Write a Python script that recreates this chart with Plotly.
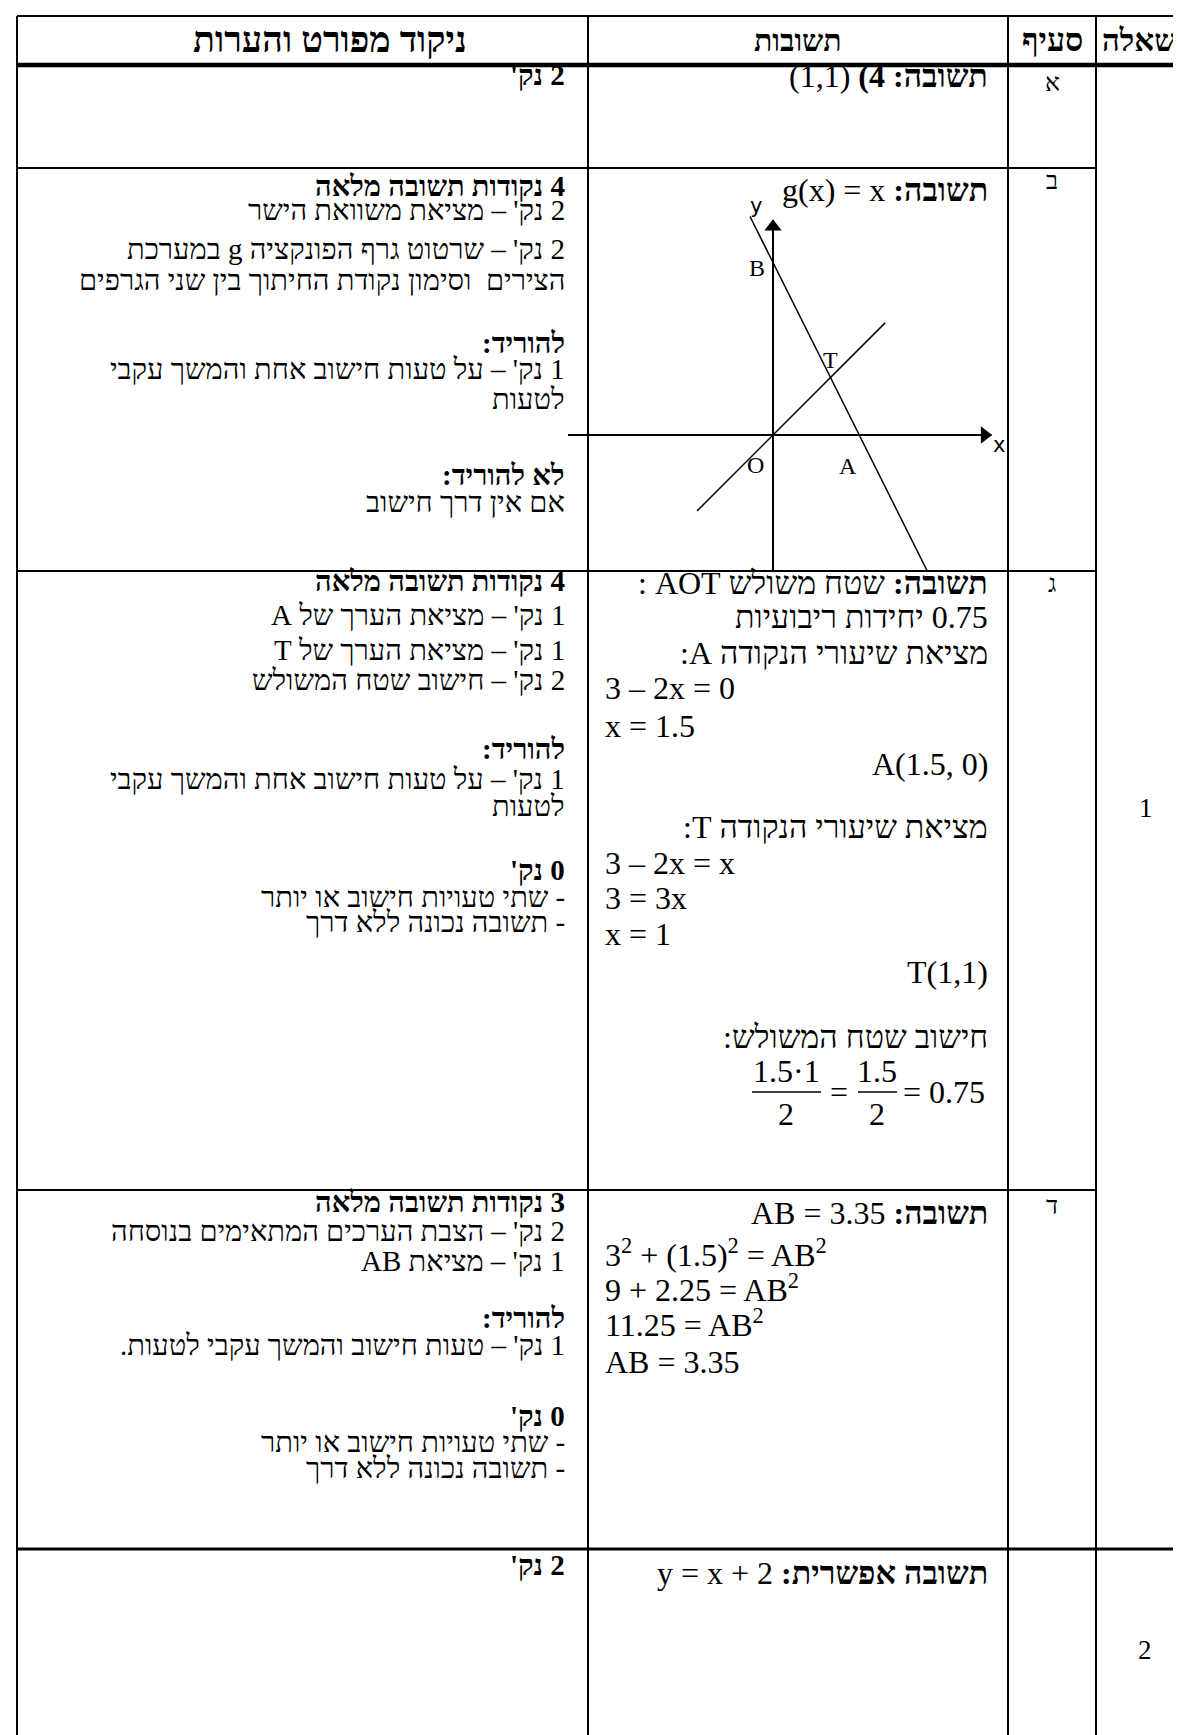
import plotly.graph_objects as go

W, H = 1181, 1735
SERIF = "Liberation Serif, Times New Roman, serif"

# ---------------- data ----------------
header_labels = ["ניקוד מפורט והערות", "תשובות", "סעיף", "שאלה"]
section_labels = ["א", "ב", "ג", "ד"]
question_labels = ["1", "2"]

# detailed scoring column (bold flag per line)
notes_a = [("2 נק'", True)]
notes_b = [("4 נקודות תשובה מלאה", True),
           ("2 נק' – מציאת משוואת הישר", False),
           ("2 נק' – שרטוט גרף הפונקציה g במערכת", False),
           ("הצירים  וסימון נקודת החיתוך בין שני הגרפים", False),
           ("להוריד:", True),
           ("1 נק' – על טעות חישוב אחת והמשך עקבי", False),
           ("לטעות", False),
           ("לא להוריד:", True),
           ("אם אין דרך חישוב", False)]
notes_c = [("4 נקודות תשובה מלאה", True),
           ("1 נק' – מציאת הערך של A", False),
           ("1 נק' – מציאת הערך של T", False),
           ("2 נק' – חישוב שטח המשולש", False),
           ("להוריד:", True),
           ("1 נק' – על טעות חישוב אחת והמשך עקבי", False),
           ("לטעות", False),
           ("0 נק'", True),
           ("- שתי טעויות חישוב או יותר", False),
           ("- תשובה נכונה ללא דרך", False)]
notes_d = [("3 נקודות תשובה מלאה", True),
           ("2 נק' – הצבת הערכים המתאימים בנוסחה", False),
           ("1 נק' – מציאת AB", False),
           ("להוריד:", True),
           ("1 נק' – טעות חישוב והמשך עקבי לטעות.", False),
           ("0 נק'", True),
           ("- שתי טעויות חישוב או יותר", False),
           ("- תשובה נכונה ללא דרך", False)]
notes_q2 = [("2 נק'", True)]

# answers column ("R" = right aligned, "L" = left aligned)
answers_a = [("<b>תשובה: 4)</b> (1,1)", "R")]
answers_b = [("<b>תשובה:</b> g(x) = x", "R")]
answers_c = [("<b>תשובה:</b> שטח משולש AOT :", "R"),
             ("0.75 יחידות ריבועיות", "R"),
             ("מציאת שיעורי הנקודה A:", "R"),
             ("3 – 2x = 0", "L"),
             ("x = 1.5", "L"),
             ("A(1.5, 0)", "R"),
             ("מציאת שיעורי הנקודה T:", "R"),
             ("3 – 2x = x", "L"),
             ("3 = 3x", "L"),
             ("x = 1", "L"),
             ("T(1,1)", "R"),
             ("חישוב שטח המשולש:", "R")]
frac_num = ["1.5·1", "1.5"]
frac_den = ["2", "2"]
frac_result = "= 0.75"
answers_d = [("<b>תשובה:</b> AB = 3.35", "R"),
             ("3<sup>2</sup> + (1.5)<sup>2</sup> = AB<sup>2</sup>", "L"),
             ("9 + 2.25 = AB<sup>2</sup>", "L"),
             ("11.25 = AB<sup>2</sup>", "L"),
             ("AB = 3.35", "L")]
answers_q2 = [("<b>תשובה אפשרית:</b> y = x + 2", "R")]

# sketch of f(x) = 3 - 2x and g(x) = x
line_f_x = [-0.40, 2.75]
line_f_y = [3.80, -2.50]
line_g_x = [-1.32, 1.95]
line_g_y = [-1.32, 1.95]
x_axis_x = [-3.60, 3.80]
x_axis_y = [0, 0]
y_axis_x = [0, 0]
y_axis_y = [-2.50, 3.74]
point_labels = ["B", "T", "O", "A", "x", "y"]
point_lx = [-0.27, 1.00, -0.30, 1.30, 3.93, -0.30]
point_ly = [2.90, 1.30, -0.52, -0.54, -0.17, 3.98]

# ---------------- layout geometry ----------------
col_x = [9, 580, 1000, 1088]
row_y = [8, 57, 160, 563, 1182, 1541]
NOTE_R = 559
ANS_R = 982
ANS_L = 595

notes_y = [[67],
           [178, 202, 241, 272, 335, 361, 391, 467, 494],
           [573, 607, 642, 672, 741, 771, 798, 862, 889, 914],
           [1194, 1223, 1253, 1310, 1337, 1408, 1434, 1460],
           [1557]]
answers_y = [[68], [182],
             [575, 609, 645, 680, 718, 756, 819, 855, 890, 926, 964, 1029],
             [1205, 1245, 1280, 1315, 1354],
             [1565]]
frac_y = (1063, 1084, 1106)   # numerator, bar, denominator
section_y = [74, 172, 575, 1197]
question_pos = [(1138, 800), (1137, 1642)]

# axis scale of the sketch: 57.5 px per unit, origin at (765, 427)
UNIT, OX, OY = 57.5, 765, 427


def rtl(s):
    return "\u202b" + s + "\u202c"


fig = go.Figure()
fig.add_trace(go.Scatter(x=[], y=[], showlegend=False))

# diagram
ax_style = dict(color="black", width=2)
fig.add_trace(go.Scatter(x=x_axis_x, y=x_axis_y, xaxis="x2", yaxis="y2", mode="lines",
                         line=ax_style, showlegend=False, hoverinfo="skip"))
fig.add_trace(go.Scatter(x=y_axis_x, y=y_axis_y, xaxis="x2", yaxis="y2", mode="lines",
                         line=ax_style, showlegend=False, hoverinfo="skip"))
fig.add_trace(go.Scatter(x=[x_axis_x[-1] - 0.12], y=[0], xaxis="x2", yaxis="y2", mode="markers",
                         marker=dict(symbol="triangle-right", size=15, color="black"),
                         showlegend=False, hoverinfo="skip"))
fig.add_trace(go.Scatter(x=[0], y=[y_axis_y[-1] - 0.12], xaxis="x2", yaxis="y2", mode="markers",
                         marker=dict(symbol="triangle-up", size=15, color="black"),
                         showlegend=False, hoverinfo="skip"))
for lx, ly in [(line_f_x, line_f_y), (line_g_x, line_g_y)]:
    fig.add_trace(go.Scatter(x=lx, y=ly, xaxis="x2", yaxis="y2", mode="lines",
                             line=dict(color="black", width=1.5), showlegend=False, hoverinfo="skip"))

ann = []
for lab, lx, ly in zip(point_labels, point_lx, point_ly):
    sans = lab in ("x", "y")
    ann.append(dict(x=lx, y=ly, xref="x2", yref="y2", text=lab, showarrow=False,
                    font=dict(family="DejaVu Sans, Arial" if sans else SERIF,
                              size=21 if sans else 24, color="black")))

# table lines
shapes = []
thin = dict(color="black", width=2)
shapes.append(dict(type="line", x0=col_x[0], x1=W, y0=row_y[0], y1=row_y[0], line=thin))
shapes.append(dict(type="line", x0=col_x[0], x1=W, y0=row_y[1], y1=row_y[1],
                   line=dict(color="black", width=4.5)))
for yy in row_y[2:5]:
    shapes.append(dict(type="line", x0=col_x[0], x1=col_x[3], y0=yy, y1=yy, line=thin))
shapes.append(dict(type="line", x0=col_x[0], x1=W, y0=row_y[5], y1=row_y[5],
                   line=dict(color="black", width=3)))
for xx in col_x:
    shapes.append(dict(type="line", x0=xx, x1=xx, y0=row_y[0], y1=H, line=thin))
for s in shapes:
    s.update(xref="x", yref="y", layer="above")

# fraction bars
frac_bar_x = [(744, 813), (850, 889)]
for x0, x1 in frac_bar_x:
    shapes.append(dict(type="line", x0=x0, x1=x1, y0=frac_y[1], y1=frac_y[1], xref="x", yref="y",
                       line=dict(color="black", width=1.5)))


def add_text(x, y, text, size, anchor="right", bold=False, family=SERIF):
    if bold:
        text = "<b>" + text + "</b>"
    ann.append(dict(x=x, y=y, xref="x", yref="y", text=text, showarrow=False,
                    xanchor=anchor, yanchor="middle",
                    font=dict(family=family, size=size, color="black")))


# headers
add_text(322, 32, rtl(header_labels[0]), 36, anchor="center", bold=True)
add_text((col_x[1] + col_x[2]) / 2, 32, rtl(header_labels[1]), 30, anchor="center", bold=True)
add_text((col_x[2] + col_x[3]) / 2, 32, rtl(header_labels[2]), 32, anchor="center", bold=True)
add_text(1131, 32, rtl(header_labels[3]), 31, anchor="center", bold=True)

# notes column
for block, ys in zip([notes_a, notes_b, notes_c, notes_d, notes_q2], notes_y):
    for (txt, b), yy in zip(block, ys):
        add_text(NOTE_R, yy, rtl(txt), 29, bold=b)

# answers column
for block, ys in zip([answers_a, answers_b, answers_c, answers_d, answers_q2], answers_y):
    for (txt, al), yy in zip(block, ys):
        if al == "R":
            add_text(ANS_R, yy, rtl(txt), 32)
        else:
            add_text(ANS_L, yy, txt, 32, anchor="left")

# fraction
for num, den, cx in zip(frac_num, frac_den, [778, 869]):
    add_text(cx, frac_y[0], num, 32, anchor="center")
    add_text(cx, frac_y[2], den, 32, anchor="center")
add_text(831, frac_y[1], "=", 32, anchor="center")
add_text(979, frac_y[1], frac_result, 32)

# section letters and question numbers
for lab, yy in zip(section_labels, section_y):
    add_text(1044, yy, lab, 25, anchor="center")
for lab, (qx, qy) in zip(question_labels, question_pos):
    add_text(qx, qy, lab, 27, anchor="center")

fig.update_layout(
    width=W, height=H,
    margin=dict(l=0, r=0, t=0, b=0),
    paper_bgcolor="white", plot_bgcolor="rgba(0,0,0,0)",
    showlegend=False,
    xaxis=dict(range=[0, W], visible=False, domain=[0, 1], fixedrange=True),
    yaxis=dict(range=[H, 0], visible=False, domain=[0, 1], fixedrange=True),
    xaxis2=dict(domain=[560 / W, 999 / W], range=[(560 - OX) / UNIT, (999 - OX) / UNIT],
                anchor="y2", visible=False, fixedrange=True),
    yaxis2=dict(domain=[1 - 562 / H, 1 - 161 / H], range=[(OY - 562) / UNIT, (OY - 161) / UNIT],
                anchor="x2", visible=False, fixedrange=True),
    shapes=shapes,
    annotations=ann,
)

fig.write_html("out.html")
